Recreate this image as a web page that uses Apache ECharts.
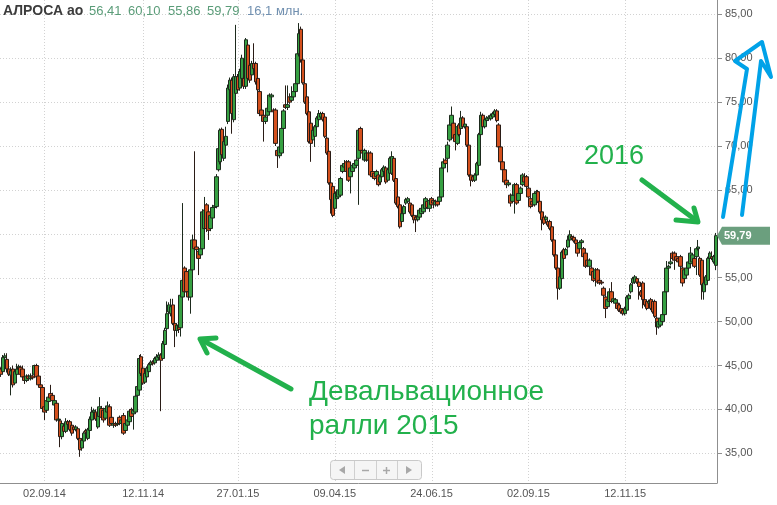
<!DOCTYPE html>
<html><head><meta charset="utf-8">
<script src="https://cdn.jsdelivr.net/npm/echarts@6/dist/echarts.min.js"></script>
<style>html,body{margin:0;padding:0;background:#fff}#c{width:777px;height:505px}</style>
</head><body><div id="c"></div>
<script>
// ---- DATA ----
const openPrices = [
44.6,44.3,45.9,45.7,44.6,43.9,44.6,43.0,44.0,44.6,44.8,44.6,43.7,43.3,43.8,43.5,43.8,44.0,45.0,43.8,
42.8,42.5,40.3,39.9,40.9,41.8,41.6,40.5,40.7,38.8,38.7,36.9,38.1,37.5,38.6,38.6,38.2,38.0,37.7,37.8,
36.7,35.6,36.4,37.6,36.7,37.6,38.8,39.7,39.7,38.0,39.2,40.1,39.9,39.0,39.7,40.3,39.1,38.2,38.4,38.3,
39.1,38.4,39.3,37.6,38.2,38.6,40.0,39.5,39.7,41.6,42.2,46.0,44.7,43.1,43.7,44.3,
45.1,45.4,45.3,45.6,45.9,46.2,45.8,47.4,49.2,51.1,50.9,51.9,49.8,49.0,49.6,49.3,52.8,56.1,55.7,53.4,
52.8,55.9,59.3,58.5,58.0,57.6,58.3,60.6,63.3,62.5,60.6,61.8,63.0,63.1,67.3,68.2,71.9,68.6,70.1,72.8,
76.4,77.5,73.0,76.0,77.9,76.6,77.7,77.7,76.8,81.5,79.2,78.1,79.4,79.4,77.7,76.2,74.1,73.5,72.8,73.5,
73.9,75.6,74.1,74.1,69.5,68.9,69.2,72.0,74.7,74.4,
75.6,75.2,75.6,76.2,77.1,80.5,83.3,79.8,77.1,75.6,73.9,72.6,70.7,71.1,72.2,73.0,73.3,73.7,73.3,70.9,
69.4,65.8,65.4,62.9,64.0,64.2,64.4,67.1,67.6,68.2,68.2,66.5,67.1,67.5,67.8,68.6,72.0,69.5,68.4,68.4,
69.2,69.2,67.1,66.9,66.5,66.7,65.9,66.5,67.1,67.5,66.1,66.9,66.9,68.6,66.3,64.2,63.3,61.4,62.3,63.5,
63.7,63.5,63.3,62.1,61.9,61.6,61.9,62.3,62.5,62.9,
63.7,62.9,64.0,63.8,63.3,63.7,63.7,64.2,67.5,68.4,68.6,70.7,72.4,72.6,71.3,70.3,72.4,72.0,73.2,72.2,
72.2,70.1,66.7,66.5,66.1,66.7,67.8,71.3,73.5,72.2,72.9,73.1,73.1,73.3,73.6,74.0,72.4,69.9,68.2,67.3,
66.1,65.6,64.4,63.7,64.4,65.6,63.8,64.6,65.6,66.5,66.5,65.2,64.0,63.7,63.3,64.6,64.8,63.7,62.5,61.9,
61.6,61.4,61.4,60.8,59.3,57.6,56.1,53.8,54.9,58.2,57.6,58.5,
59.3,59.7,59.6,59.3,58.9,58.3,59.0,58.3,57.8,57.0,56.3,56.1,55.7,54.9,55.9,54.7,54.5,53.8,52.8,51.7,
52.3,53.4,52.3,52.1,52.1,51.9,51.5,51.3,50.9,51.3,52.6,53.4,54.4,54.5,54.9,54.5,53.4,54.4,52.5,52.3,
52.1,52.5,52.3,52.3,50.4,49.4,49.6,50.0,50.8,53.4,56.1,56.6,57.8,57.8,57.4,57.2,57.4,56.1,54.9,55.3,
56.1,56.6,56.8,57.2,57.4,58.3,57.2,57.0,53.4,54.2,54.7,57.2,57.4,56.8,56.41
];
const closePrices = [
44.0,45.9,46.1,44.6,44.0,44.4,42.8,44.3,44.6,44.9,44.0,43.7,43.3,43.8,43.5,43.8,43.6,45.0,43.7,42.8,
42.5,40.1,39.7,41.0,41.4,41.3,41.0,41.0,38.8,38.9,36.9,38.4,37.5,38.6,38.3,37.7,37.3,37.7,38.0,36.7,
35.4,36.5,37.3,37.4,37.7,38.9,39.7,39.9,38.9,39.6,40.3,39.1,38.8,40.1,40.4,38.2,38.4,38.4,38.2,38.4,
38.4,38.8,37.3,38.4,38.8,39.8,39.2,39.9,41.5,42.6,45.8,44.1,43.0,44.1,44.7,45.1,
45.4,45.2,45.8,46.0,46.2,45.6,47.5,49.0,50.9,51.9,51.7,49.8,49.0,49.6,49.1,53.0,54.7,53.4,53.4,52.8,
55.9,59.3,58.3,58.2,57.2,58.3,62.5,62.7,60.6,60.4,62.1,63.0,63.2,66.5,69.7,71.8,69.0,70.5,71.1,76.6,
77.5,73.7,77.9,77.9,76.4,78.5,80.0,76.8,82.1,77.7,77.5,79.4,78.8,77.3,76.4,73.7,73.5,72.8,73.3,74.3,
75.8,75.8,73.9,70.3,68.9,69.9,72.0,74.0,74.4,74.7,
75.0,75.6,76.2,77.1,80.5,82.8,79.8,77.2,75.0,73.7,70.5,70.3,71.8,72.2,73.2,73.7,73.7,73.0,71.1,69.2,
65.8,63.9,62.1,64.6,64.8,65.0,66.3,67.8,68.0,67.1,66.1,67.5,67.8,68.0,68.4,71.8,69.5,69.2,69.5,69.2,
68.4,66.7,66.5,66.3,67.1,65.6,66.5,67.3,67.6,65.9,67.3,68.6,68.8,66.1,63.5,63.1,60.8,62.3,63.1,63.9,
64.0,62.5,62.1,61.6,61.6,62.1,62.7,62.9,63.3,64.0,
63.0,63.8,63.3,63.5,63.7,63.3,64.2,67.5,68.2,68.0,70.1,72.4,73.5,70.9,70.5,72.2,71.3,73.2,72.2,72.5,
70.1,66.7,66.1,66.1,66.7,68.0,71.3,73.5,72.2,73.0,73.2,73.3,73.5,73.7,74.0,72.9,69.9,68.2,67.3,65.9,
65.6,65.8,63.5,64.4,65.6,63.5,64.6,65.2,66.7,65.9,65.4,64.2,63.1,63.3,64.6,64.8,63.7,62.5,61.6,61.2,
61.9,61.0,60.6,59.3,57.6,56.1,53.8,55.1,57.9,57.2,58.2,59.3,
59.9,59.5,59.2,58.9,57.8,59.0,59.2,57.4,56.3,56.4,57.0,55.3,54.7,55.9,54.5,54.4,54.4,53.0,51.5,52.5,
53.4,52.3,52.6,52.5,51.5,51.3,51.1,50.9,51.5,52.8,53.0,54.2,54.9,55.1,54.5,54.0,53.0,52.5,51.9,51.5,
52.3,51.5,51.1,50.6,49.4,50.0,50.4,50.8,53.4,56.1,56.3,56.8,57.2,57.0,57.0,56.8,56.3,54.4,55.9,56.1,
56.8,57.8,57.6,56.3,58.3,58.5,55.3,54.2,54.4,55.1,57.2,57.8,57.2,57.4,59.79
];
const lowPrices = [
43.7,44.0,45.6,44.2,43.8,41.6,42.5,42.8,43.8,44.4,43.8,43.4,42.9,43.1,43.3,43.3,43.4,43.8,43.5,42.6,
42.2,40.0,38.8,39.6,40.7,41.1,40.8,40.3,38.6,38.4,35.7,36.6,37.3,37.3,38.1,37.5,37.0,37.4,37.5,36.5,
34.6,35.3,36.2,37.2,36.5,37.4,38.6,39.4,38.7,37.8,39.0,38.9,38.5,38.8,39.5,38.0,38.2,37.9,38.0,38.1,
38.2,38.2,37.1,37.4,38.0,38.4,39.0,37.7,39.5,41.4,42.0,43.8,42.8,42.9,43.5,44.1,
44.9,45.0,45.1,45.4,45.6,39.8,45.6,47.2,49.0,50.8,50.6,49.6,47.1,48.3,48.7,48.3,52.5,53.0,52.9,52.4,
50.9,55.6,58.0,57.5,55.3,57.2,58.1,60.3,60.2,59.3,60.3,61.6,62.8,62.9,67.1,67.9,68.7,68.3,69.8,72.5,
76.1,71.4,72.7,75.7,76.1,76.3,77.4,76.5,76.5,77.4,77.2,77.8,78.5,77.0,76.0,73.4,73.2,70.5,72.5,73.2,
73.6,75.4,73.6,70.0,67.5,68.6,69.0,71.8,74.2,74.1,
74.8,75.0,75.3,76.0,76.9,80.2,79.5,77.0,74.8,73.5,70.3,68.2,70.5,69.9,71.9,72.8,73.1,72.8,70.9,69.0,
65.6,62.3,61.9,62.7,63.7,64.0,64.2,66.9,67.4,66.9,65.9,64.6,66.9,67.3,67.6,63.3,69.3,69.0,68.2,68.2,
68.2,66.5,66.3,66.1,66.3,65.4,65.7,66.3,66.9,65.7,65.9,66.7,66.7,65.9,63.3,62.9,60.6,61.2,62.1,63.3,
63.5,62.3,61.9,61.2,60.2,61.4,61.7,62.1,62.3,62.7,
62.8,62.5,63.1,62.9,63.1,63.1,63.5,64.0,67.3,67.8,67.0,70.5,72.2,70.7,69.5,70.1,71.1,71.8,72.0,72.0,
69.9,66.5,65.4,65.9,65.9,66.5,67.6,71.1,72.0,72.0,72.7,72.9,72.9,73.1,73.4,72.7,69.7,68.0,67.1,65.7,
65.2,65.4,63.1,63.5,62.3,63.3,63.6,64.4,65.4,65.7,65.2,64.0,62.9,63.1,63.1,64.4,63.5,62.3,60.4,61.0,
61.4,60.8,60.4,59.1,57.4,55.9,52.5,53.6,54.7,57.0,57.4,58.3,
59.1,59.3,59.0,58.7,57.4,58.1,58.8,57.2,56.1,56.2,56.1,55.1,54.5,54.0,54.3,54.2,54.2,52.8,50.4,51.5,
52.1,52.1,52.1,51.9,51.3,51.1,50.9,50.7,50.7,51.1,52.4,53.2,54.2,54.3,54.3,52.5,52.8,51.5,51.7,51.3,
51.9,51.3,50.9,50.4,48.5,49.2,49.4,49.8,50.6,53.2,55.9,56.4,57.0,55.9,56.8,56.6,56.1,54.0,54.7,55.1,
55.9,56.4,56.6,56.1,55.3,58.1,55.1,52.5,52.5,54.0,54.5,57.0,57.0,56.6,55.86
];
const highPrices = [
44.8,46.2,46.4,46.4,44.8,44.8,45.0,44.6,45.2,45.1,45.0,45.0,43.9,44.0,44.0,44.1,44.0,45.1,45.2,44.0,
43.0,42.7,40.5,41.2,41.6,42.8,41.9,41.5,41.0,39.2,38.9,38.6,38.3,39.0,38.8,38.8,38.4,38.2,38.2,38.0,
36.9,36.7,37.5,37.8,37.9,39.2,40.3,40.1,40.0,39.8,41.4,40.4,40.2,40.4,40.9,40.6,39.3,38.6,38.6,38.6,
39.3,39.0,39.6,38.6,39.0,40.0,40.2,40.1,41.7,42.8,46.2,46.3,44.9,44.3,44.9,45.3,
45.6,45.6,46.0,46.3,46.5,46.4,47.8,49.3,52.3,52.2,52.6,52.6,50.0,49.8,49.8,53.2,63.5,56.3,55.9,53.8,
56.1,59.9,69.4,58.8,58.2,58.6,62.8,64.2,63.5,62.7,62.4,63.3,63.4,66.8,69.9,72.0,72.1,70.8,72.2,77.0,
77.8,77.8,78.2,83.8,78.2,78.8,80.4,78.0,82.3,81.8,79.4,79.7,81.7,79.6,78.0,76.4,74.3,73.7,73.6,74.6,
76.0,76.0,74.3,74.3,69.7,70.2,72.3,74.2,76.9,76.9,
76.0,76.8,76.5,77.3,80.8,84.0,83.6,80.0,77.3,75.8,74.1,72.8,72.0,72.4,73.4,74.1,73.9,73.9,73.5,71.1,
69.6,66.0,65.6,64.8,65.0,65.2,66.5,68.0,68.4,68.4,68.4,67.7,68.0,68.2,68.6,72.0,72.2,69.7,69.7,69.4,
69.5,69.4,67.3,67.1,67.3,66.9,66.7,67.5,67.8,67.7,67.5,68.8,69.4,68.8,66.5,64.4,63.5,62.5,63.3,64.1,
64.2,63.7,63.5,62.3,62.1,62.3,62.9,63.1,63.5,64.2,
63.9,64.0,64.2,64.0,63.9,63.9,64.4,67.7,68.6,68.6,70.5,72.6,74.5,72.8,71.5,72.4,72.6,74.0,73.4,72.7,
72.4,70.3,66.9,66.7,66.9,68.2,71.5,73.9,73.7,73.2,73.4,73.5,73.7,73.9,74.2,74.2,72.6,70.1,68.4,67.5,
66.3,66.0,64.6,64.6,65.8,65.8,64.8,65.4,66.9,66.9,66.7,65.4,64.2,63.9,64.8,65.0,65.0,63.9,62.7,62.1,
62.1,61.6,61.6,61.0,59.5,57.8,56.3,55.3,58.1,58.4,58.4,59.8,
60.4,59.9,59.8,59.5,59.1,59.2,59.4,58.5,58.0,57.2,57.2,56.3,55.9,56.1,56.1,54.9,54.7,54.0,53.0,52.7,
53.8,54.5,52.8,52.7,52.3,52.1,51.7,51.5,51.7,53.0,53.2,54.4,55.1,55.3,55.1,54.7,53.6,54.6,52.7,52.5,
52.5,52.7,52.5,52.5,50.6,50.2,50.6,51.0,53.6,56.9,56.5,57.8,58.0,58.0,57.6,57.4,57.6,56.3,56.1,56.3,
57.0,58.5,57.8,57.4,58.5,59.3,57.4,57.2,54.6,55.3,57.4,58.0,58.0,57.6,60.10
];
const tickIndex  = [22, 72, 120, 169, 218, 267, 316];
const tickLabels = ['02.09.14','12.11.14','27.01.15','09.04.15','24.06.15','02.09.15','12.11.15'];
const priceTicks = [35,40,45,50,55,60,65,70,75,80,85];
const headerName = 'АЛРОСА ао';
const headerValues = ['56,41','60,10','55,86','59,79'];
const headerVolume = '16,1 млн.';

// ---- BUILD ----
const categories = openPrices.map((_, i) => String(i));
const candles = openPrices.map((o, i) => [o, closePrices[i], lowPrices[i], highPrices[i]]);
const lastClose = closePrices[closePrices.length - 1];
const FONT = '"Liberation Sans", Arial, sans-serif';
const fmt = v => Number(v).toFixed(2).replace('.', ',');

const chart = echarts.init(document.getElementById('c'), null, {renderer: 'canvas'});
chart.setOption({
  animation: false,
  backgroundColor: '#ffffff',
  grid: {left: 0, right: 60, top: 0, bottom: 22, outerBoundsMode: 'none'},
  xAxis: {
    type: 'category', data: categories, boundaryGap: true,
    axisLine: {show: true, onZero: false, lineStyle: {color: '#8f8f8f', width: 1}},
    axisTick: {show: false},
    splitLine: {show: false},
    axisLabel: {
      interval: (i) => tickIndex.includes(i),
      formatter: (v) => { const k = tickIndex.indexOf(Number(v)); return k >= 0 ? tickLabels[k] : ''; },
      color: '#555', fontSize: 11, fontFamily: FONT, margin: 5
    }
  },
  yAxis: {
    type: 'value', position: 'right', min: 31.62, max: 86.63,
    axisLine: {show: true, lineStyle: {color: '#8f8f8f', width: 1}},
    axisTick: {show: true, length: 5, customValues: priceTicks, lineStyle: {color: '#8f8f8f'}},
    axisLabel: {customValues: priceTicks, formatter: fmt, color: '#555', fontSize: 11, fontFamily: FONT, margin: 8},
    splitLine: {show: false}
  },
  series: [{
    type: 'candlestick', data: candles, barWidth: 4, z: 2,
    itemStyle: {color: '#36a042', color0: '#d4501d', borderColor: '#1d2a1d', borderColor0: '#2a1c16', borderWidth: 1}
  }]
});

// ---- overlay elements positioned through the chart's own scales ----
const g = [];
const gridRight = 717, gridBottom = 483;
priceTicks.forEach(v => {
  const y = Math.round(chart.convertToPixel({yAxisIndex: 0}, v)) + 0.5;
  g.push({type: 'line', silent: true, z: 0, shape: {x1: 0, y1: y, x2: gridRight - 1, y2: y},
    style: {stroke: '#d2d2d2', lineWidth: 1, lineDash: [1, 2]}});
});
tickIndex.forEach(i => {
  const x = Math.round(chart.convertToPixel({xAxisIndex: 0}, categories[i])) + 0.5;
  g.push({type: 'line', silent: true, z: 0, shape: {x1: x, y1: 0, x2: x, y2: gridBottom - 1},
    style: {stroke: '#d2d2d2', lineWidth: 1, lineDash: [1, 2]}});
});

// header
g.push({type: 'text', z: 50, style: {text: headerName, x: 3, y: 11, verticalAlign: 'middle',
  font: 'bold 14px ' + FONT, fill: '#3c3c3c'}});
const hx = [89, 128, 168, 207];
headerValues.forEach((t, k) => g.push({type: 'text', z: 50, style: {text: t, x: hx[k], y: 11.5,
  verticalAlign: 'middle', font: '13px ' + FONT, fill: '#5a9c78'}}));
g.push({type: 'text', z: 50, style: {text: headerVolume, x: 247, y: 11.5, verticalAlign: 'middle',
  font: '13px ' + FONT, fill: '#7190b0'}});

// last price tag
const ty = chart.convertToPixel({yAxisIndex: 0}, lastClose);
g.push({type: 'polygon', z: 50, shape: {points: [[717, ty], [722, ty - 9], [770, ty - 9], [770, ty + 9], [722, ty + 9]]},
  style: {fill: '#6b9f7e'}});
g.push({type: 'text', z: 51, style: {text: fmt(lastClose), x: 724, y: ty, verticalAlign: 'middle',
  font: 'bold 11px ' + FONT, fill: '#ffffff'}});

// navigator control
g.push({type: 'rect', z: 50, shape: {x: 330.5, y: 460.5, width: 91, height: 19, r: 3},
  style: {fill: '#f5f5f5', stroke: '#c9c9c9', lineWidth: 1}});
[354.5, 376.5, 397.5].forEach(x => g.push({type: 'line', z: 51, shape: {x1: x, y1: 461, x2: x, y2: 479},
  style: {stroke: '#d0d0d0', lineWidth: 1}}));
g.push({type: 'polygon', z: 51, shape: {points: [[339, 470], [345, 466], [345, 474]]}, style: {fill: '#a8a8a8'}});
g.push({type: 'polygon', z: 51, shape: {points: [[412, 470], [406, 466], [406, 474]]}, style: {fill: '#a8a8a8'}});
g.push({type: 'line', z: 51, shape: {x1: 362, y1: 470.5, x2: 369, y2: 470.5}, style: {stroke: '#a8a8a8', lineWidth: 1.5}});
g.push({type: 'line', z: 51, shape: {x1: 383, y1: 470.5, x2: 390, y2: 470.5}, style: {stroke: '#a8a8a8', lineWidth: 1.5}});
g.push({type: 'line', z: 51, shape: {x1: 386.5, y1: 467, x2: 386.5, y2: 474}, style: {stroke: '#a8a8a8', lineWidth: 1.5}});

// hand-drawn annotations
const GREEN = '#22b14c', BLUE = '#00a2e8';
const stroke = (c, w) => ({stroke: c, lineWidth: w, lineCap: 'round', lineJoin: 'round', fill: null});
g.push({type: 'polyline', z: 100, shape: {points: [[291, 389], [202, 340]]}, style: stroke(GREEN, 5)});
g.push({type: 'polyline', z: 100, shape: {points: [[216, 338], [200, 339], [207, 353]]}, style: stroke(GREEN, 5)});
g.push({type: 'text', z: 100, style: {text: 'Девальвационное', x: 309, y: 392, verticalAlign: 'middle',
  font: '28px ' + FONT, fill: GREEN}});
g.push({type: 'text', z: 100, style: {text: 'ралли 2015', x: 309, y: 426, verticalAlign: 'middle',
  font: '28px ' + FONT, fill: GREEN}});
g.push({type: 'text', z: 100, style: {text: '2016', x: 584, y: 157, verticalAlign: 'middle',
  font: '27px ' + FONT, fill: GREEN}});
g.push({type: 'polyline', z: 100, shape: {points: [[642, 180], [697, 221]]}, style: stroke(GREEN, 5)});
g.push({type: 'polyline', z: 100, shape: {points: [[676, 220], [698, 222], [694, 208]]}, style: stroke(GREEN, 5)});
g.push({type: 'polyline', z: 100, shape: {points: [[723, 217], [747, 69], [735, 61], [762, 42], [771, 77], [761, 61], [742, 215]]},
  style: stroke(BLUE, 4)});

chart.setOption({graphic: {elements: g}});
</script>
</body></html>
